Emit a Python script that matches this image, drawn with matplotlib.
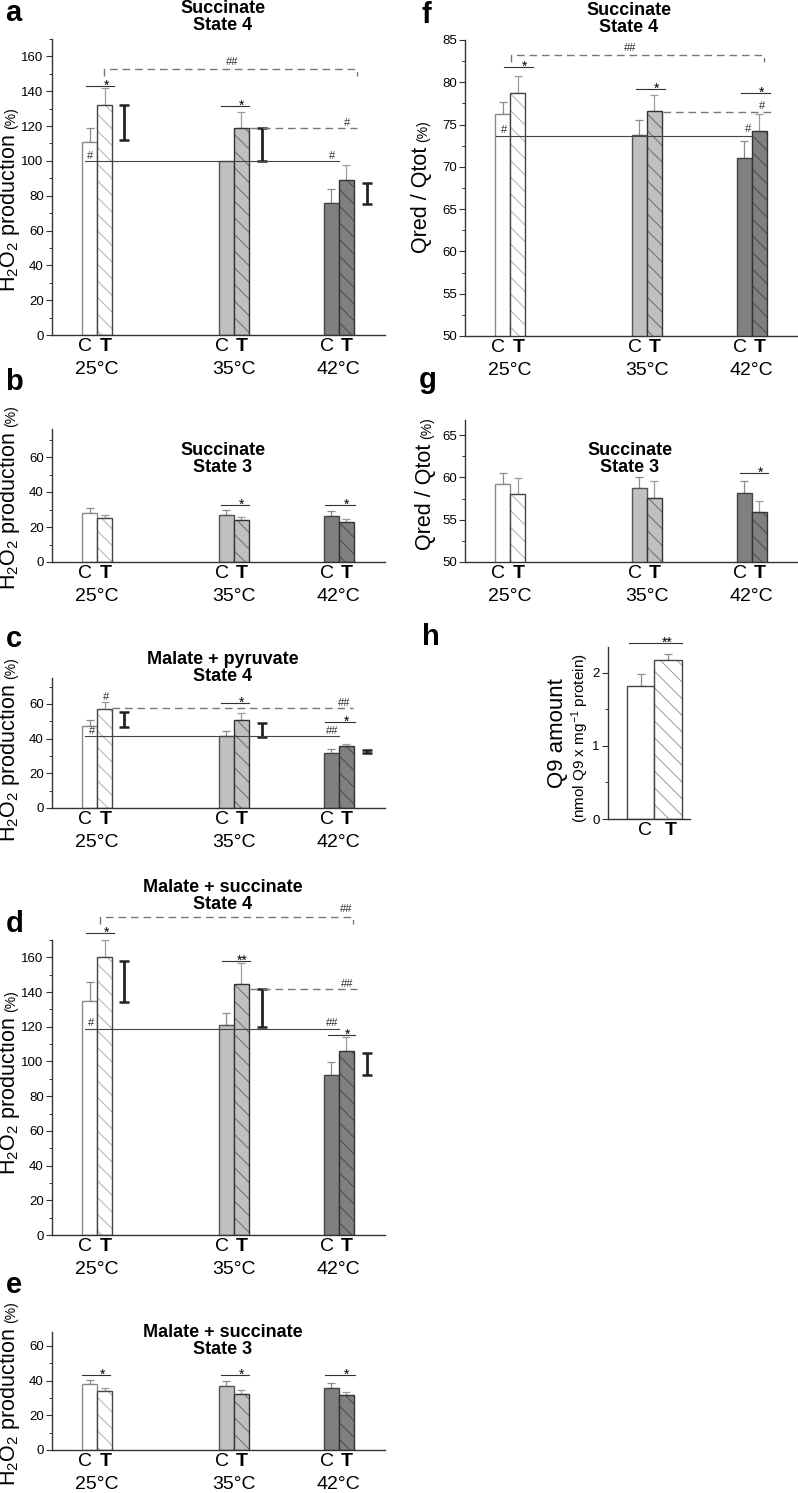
import matplotlib
matplotlib.use("Agg")
import matplotlib.pyplot as plt
from matplotlib.ticker import MultipleLocator

W, H = 798, 1493

plt.rcParams["font.family"] = ["Liberation Sans", "DejaVu Sans"]
plt.rcParams["mathtext.fontset"] = "custom"
plt.rcParams["mathtext.rm"] = "Liberation Sans"
plt.rcParams["mathtext.it"] = "Liberation Sans:italic"
plt.rcParams["mathtext.bf"] = "Liberation Sans:bold"
plt.rcParams["hatch.linewidth"] = 0.7

TEMPS = ["25°C", "35°C", "42°C"]
GROUP_X = [3.0, 12.1, 19.1]
RANGE_X = [4.8, 14.0, 21.0]

# a: succinate, state 4 (H2O2 %)
A_C = [111, 100, 76]
A_T = [132, 119, 89]
A_C_ERR = [8, 0, 8]
A_T_ERR = [10, 9, 8.5]
A_RANGES = [(112, 132), (100, 119), (75, 87.5)]

# b: succinate, state 3
B_C = [28, 27, 26.5]
B_T = [25, 24, 23]
B_C_ERR = [3, 2.5, 2.5]
B_T_ERR = [2, 2, 1.5]

# c: malate + pyruvate, state 4
C_C = [47.5, 41.5, 31.5]
C_T = [57, 50.5, 35.5]
C_C_ERR = [3.5, 3, 2.5]
C_T_ERR = [4, 4.5, 1.5]
C_RANGES = [(46.5, 55.5), (41, 49), (31.5, 33.5)]

# d: malate + succinate, state 4
D_C = [135, 121, 92]
D_T = [160, 144.5, 106]
D_C_ERR = [11, 7, 7.5]
D_T_ERR = [10, 12, 8]
D_RANGES = [(134, 158), (120, 142), (92, 105)]

# e: malate + succinate, state 3
E_C = [38, 37, 36]
E_T = [34, 32.5, 31.5]
E_C_ERR = [2.5, 2.5, 2.5]
E_T_ERR = [1.5, 2, 2]

# f: Qred/Qtot, succinate state 4
F_C = [76.3, 73.8, 71.1]
F_T = [78.7, 76.6, 74.2]
F_C_ERR = [1.4, 1.7, 2.0]
F_T_ERR = [2.1, 1.9, 2.0]

# g: Qred/Qtot, succinate state 3
G_C = [59.2, 58.8, 58.2]
G_T = [58.0, 57.6, 55.9]
G_C_ERR = [1.3, 1.3, 1.4]
G_T_ERR = [1.9, 2.0, 1.3]

# h: Q9 amount
H_LABELS = ["C", "T"]
H_X = [1.2, 2.2]
H_VALS = [1.82, 2.17]
H_ERR = [0.16, 0.08]

FACE = ["white", "#c0c0c0", "#808080"]
C_EDGE = ["#8a8a8a", "#555555", "#444444"]
T_EDGE = ["#444444", "#333333", "#333333"]
HATCH_COL = ["#b0b0b0", "#6a6a6a", "#4a4a4a"]

fig = plt.figure(figsize=(W / 100, H / 100), dpi=100)


def px_axes(left, top, right, bottom):
    return fig.add_axes([left / W, 1 - bottom / H, (right - left) / W, (bottom - top) / H])


def fx(x):
    return x / W


def fy(y):
    return 1 - y / H


def style_axes(ax, ylim, major, minor, xlim=(0, 22.2)):
    ax.set_xlim(*xlim)
    ax.set_ylim(*ylim)
    for side in ("top", "right"):
        ax.spines[side].set_visible(False)
    for side in ("left", "bottom"):
        ax.spines[side].set_color("#333333")
        ax.spines[side].set_linewidth(1.0)
    ax.yaxis.set_major_locator(MultipleLocator(major))
    ax.yaxis.set_minor_locator(MultipleLocator(minor))
    ax.tick_params(axis="y", which="major", length=4, width=0.8, labelsize=9.5, pad=2, color="#333333")
    ax.tick_params(axis="y", which="minor", length=2, width=0.7, color="#333333")
    ax.tick_params(axis="x", length=0, labelsize=14, pad=2.5)
    ax.patch.set_alpha(0)


def hatched_bar(ax, x, val, width, face, hatch_col, edge):
    ax.bar(x, val, width, color=face, edgecolor=hatch_col, hatch="\\\\", linewidth=0, zorder=2)
    ax.bar(x, val, width, fill=False, edgecolor=edge, linewidth=1.0, zorder=2)


def draw_pairs(ax, c_vals, t_vals, c_err, t_err, centers=GROUP_X, temps=TEMPS):
    ticks, labels = [], []
    for i, cx in enumerate(centers):
        xc, xt = cx - 0.5, cx + 0.5
        ax.bar(xc, c_vals[i], 1.0, color=FACE[i], edgecolor=C_EDGE[i], linewidth=1.0, zorder=2)
        hatched_bar(ax, xt, t_vals[i], 1.0, FACE[i], HATCH_COL[i], T_EDGE[i])
        if c_err[i] > 0:
            ax.errorbar(xc, c_vals[i], yerr=[[0], [c_err[i]]], fmt="none", ecolor="#8c8c8c",
                        elinewidth=0.9, capsize=3, capthick=0.9, zorder=1.5, clip_on=False)
        if t_err[i] > 0:
            ax.errorbar(xt, t_vals[i], yerr=[[0], [t_err[i]]], fmt="none", ecolor="#9c9c9c",
                        elinewidth=0.9, capsize=3, capthick=0.9, zorder=1.5, clip_on=False)
        # label positions (invisible ticks) spread a little wider than the bars
        ticks += [cx - 0.8, cx + 0.55]
        labels += ["C", "T"]
        ax.annotate(temps[i], xy=(cx, 0), xycoords=("data", "axes fraction"),
                    xytext=(0, -24.5), textcoords="offset points",
                    ha="center", va="center", fontsize=14)
    ax.set_xticks(ticks)
    ax.set_xticklabels(labels)
    for lab in ax.get_xticklabels()[1::2]:
        lab.set_fontweight("bold")


def sig_line(ax, x0, x1, y, label="*", frac=0.72):
    ax.plot([x0, x1], [y, y], color="#333333", lw=0.8, clip_on=False, zorder=3)
    ax.annotate(label, xy=(x0 + frac * (x1 - x0), y), xytext=(0, -2.6), textcoords="offset points",
                ha="center", va="baseline", fontsize=10, annotation_clip=False)


def hash_mark(ax, x, y, label="#"):
    ax.annotate(label, xy=(x, y), xytext=(0, 1.5), textcoords="offset points",
                ha="center", va="baseline", fontsize=8, color="#333333", annotation_clip=False)


def ref_line(ax, x0, x1, y, dashed=False):
    if dashed:
        ax.plot([x0, x1], [y, y], color="#777777", lw=1.0, ls=(0, (5.5, 3.5)), clip_on=False, zorder=3)
    else:
        ax.plot([x0, x1], [y, y], color="#444444", lw=0.8, clip_on=False, zorder=3)


def bracket(ax, x0, x1, y, y_end):
    ax.plot([x0, x0, x1, x1], [y_end, y, y, y_end], color="#777777", lw=1.0,
            ls=(0, (5.5, 3.5)), clip_on=False, zorder=3)


def range_bars(ax, ranges, xs=RANGE_X):
    for x, (lo, hi) in zip(xs, ranges):
        ax.errorbar(x, (lo + hi) / 2, yerr=(hi - lo) / 2, fmt="none", ecolor="#222222",
                    elinewidth=2.0, capsize=3.5, capthick=1.8, zorder=3)


def ylabel(ax_x, y_start, main, small, main_size=15.5, small_size=10):
    t = fig.text(fx(ax_x), fy(y_start), main, rotation=90, ha="center", va="bottom", fontsize=main_size)
    renderer = fig.canvas.get_renderer()
    bb = t.get_window_extent(renderer)
    fig.text(fx(ax_x + 1), (bb.y1 + 5) / H, small, rotation=90, ha="center", va="bottom", fontsize=small_size)


def title(x, y, text):
    fig.text(fx(x), fy(y), text, ha="center", va="center", fontsize=13, fontweight="bold", linespacing=1.0)


def letter(x, y, text):
    fig.text(fx(x), fy(y), text, ha="left", va="baseline", fontsize=21, fontweight="bold")


H2O2 = r"H$_2$O$_2$ production"
QRQT = "Qred / Qtot"

# ---- panel a
ax = px_axes(52, 39, 385, 335)
style_axes(ax, (0, 170), 20, 10)
draw_pairs(ax, A_C, A_T, A_C_ERR, A_T_ERR)
range_bars(ax, A_RANGES)
ref_line(ax, 2.2, 19.13, 100)
hash_mark(ax, 2.55, 100)
hash_mark(ax, 18.7, 100)
ref_line(ax, 13.2, 20.33, 119, dashed=True)
hash_mark(ax, 19.7, 119)
bracket(ax, 3.47, 20.33, 153, 149)
hash_mark(ax, 12.0, 154, "##")
sig_line(ax, 2.27, 4.13, 143)
sig_line(ax, 11.27, 13.13, 131.5)

# ---- panel b
ax = px_axes(52, 429, 385, 562)
style_axes(ax, (0, 76), 20, 10)
draw_pairs(ax, B_C, B_T, B_C_ERR, B_T_ERR)
sig_line(ax, 11.27, 13.13, 32.7)
sig_line(ax, 18.2, 20.2, 32.7)

# ---- panel c
ax = px_axes(52, 678, 385, 808)
style_axes(ax, (0, 75), 20, 10)
draw_pairs(ax, C_C, C_T, C_C_ERR, C_T_ERR)
range_bars(ax, C_RANGES)
ref_line(ax, 2.2, 19.13, 41.5)
hash_mark(ax, 2.67, 41.5)
hash_mark(ax, 18.7, 41.5, "##")
ref_line(ax, 4.0, 20.07, 57.5, dashed=True)
hash_mark(ax, 19.5, 57.5, "##")
hash_mark(ax, 3.6, 61)
sig_line(ax, 11.27, 13.13, 60.5)
sig_line(ax, 18.2, 20.2, 49.5)

# ---- panel d
ax = px_axes(52, 940, 385, 1235)
style_axes(ax, (0, 170), 20, 10)
draw_pairs(ax, D_C, D_T, D_C_ERR, D_T_ERR)
range_bars(ax, D_RANGES)
ref_line(ax, 2.2, 19.13, 119)
hash_mark(ax, 2.6, 119)
hash_mark(ax, 18.7, 119, "##")
ref_line(ax, 13.2, 20.33, 142, dashed=True)
hash_mark(ax, 19.7, 142, "##")
bracket(ax, 3.2, 20.07, 183, 179)
hash_mark(ax, 19.6, 185, "##")
sig_line(ax, 2.27, 4.13, 174)
sig_line(ax, 11.33, 13.2, 158, "**")
sig_line(ax, 18.4, 20.2, 115)

# ---- panel e
ax = px_axes(52, 1332, 385, 1450)
style_axes(ax, (0, 68), 20, 10)
draw_pairs(ax, E_C, E_T, E_C_ERR, E_T_ERR)
sig_line(ax, 2.0, 3.87, 43)
sig_line(ax, 11.27, 13.13, 43)
sig_line(ax, 18.2, 20.2, 43)

# ---- panel f
ax = px_axes(465, 40, 797, 336)
style_axes(ax, (50, 85), 5, 2.5, xlim=(0, 22.13))
draw_pairs(ax, F_C, F_T, F_C_ERR, F_T_ERR)
ref_line(ax, 2.05, 19.1, 73.6)
hash_mark(ax, 2.6, 73.8)
hash_mark(ax, 18.9, 73.9)
ref_line(ax, 13.2, 20.45, 76.5, dashed=True)
hash_mark(ax, 19.8, 76.6)
bracket(ax, 3.07, 19.9, 83.2, 82.4)
hash_mark(ax, 11.0, 83.4, "##")
sig_line(ax, 2.6, 4.51, 81.8)
sig_line(ax, 11.4, 13.3, 79.2)
sig_line(ax, 18.4, 20.3, 78.7)

# ---- panel g
ax = px_axes(465, 420, 797, 562)
style_axes(ax, (50, 66.8), 5, 2.5, xlim=(0, 22.13))
draw_pairs(ax, G_C, G_T, G_C_ERR, G_T_ERR)
sig_line(ax, 18.3, 20.2, 60.5)

# ---- panel h
ax = px_axes(608, 647, 690, 819)
style_axes(ax, (0, 2.35), 1, 0.5, xlim=(0, 3.0))
ax.bar(H_X[0], H_VALS[0], 1.0, color="white", edgecolor="#444444", linewidth=1.0, zorder=2)
hatched_bar(ax, H_X[1], H_VALS[1], 1.0, "white", "#9a9a9a", "#444444")
ax.errorbar(H_X, H_VALS, yerr=[[0, 0], H_ERR], fmt="none", ecolor="#8c8c8c",
            elinewidth=0.9, capsize=3, capthick=0.9, zorder=1.5)
ax.set_xticks([H_X[0] + 0.15, H_X[1] + 0.1])
ax.set_xticklabels(H_LABELS)
ax.get_xticklabels()[1].set_fontweight("bold")
sig_line(ax, 0.77, 2.7, 2.40, "**")

# ---- titles
title(223, 17, "Succinate\nState 4")
title(223, 459, "Succinate\nState 3")
title(223, 668, "Malate + pyruvate\nState 4")
title(223, 896, "Malate + succinate\nState 4")
title(223, 1341, "Malate + succinate\nState 3")
title(629, 19, "Succinate\nState 4")
title(630, 459, "Succinate\nState 3")

# ---- y labels
ylabel(10, 292, H2O2, "(%)")
ylabel(10, 590, H2O2, "(%)")
ylabel(10, 842, H2O2, "(%)")
ylabel(10, 1175, H2O2, "(%)")
ylabel(10, 1486, H2O2, "(%)")
ylabel(422, 253, QRQT, "(%)")
ylabel(426, 550, QRQT, "(%)")
fig.text(fx(557), fy(788), "Q9 amount", rotation=90, ha="center", va="bottom", fontsize=16)
fig.text(fx(580), fy(823), r"(nmol Q9 x mg$^{-1}$ protein)", rotation=90, ha="center", va="bottom", fontsize=11)

# ---- panel letters
letter(5, 21, "a")
letter(5, 390, "b")
letter(6, 647, "c")
letter(6, 932, "d")
letter(6, 1293, "e")
letter(421, 23, "f")
letter(419, 388, "g")
letter(422, 645, "h")

fig.savefig("out.png", dpi=100)
